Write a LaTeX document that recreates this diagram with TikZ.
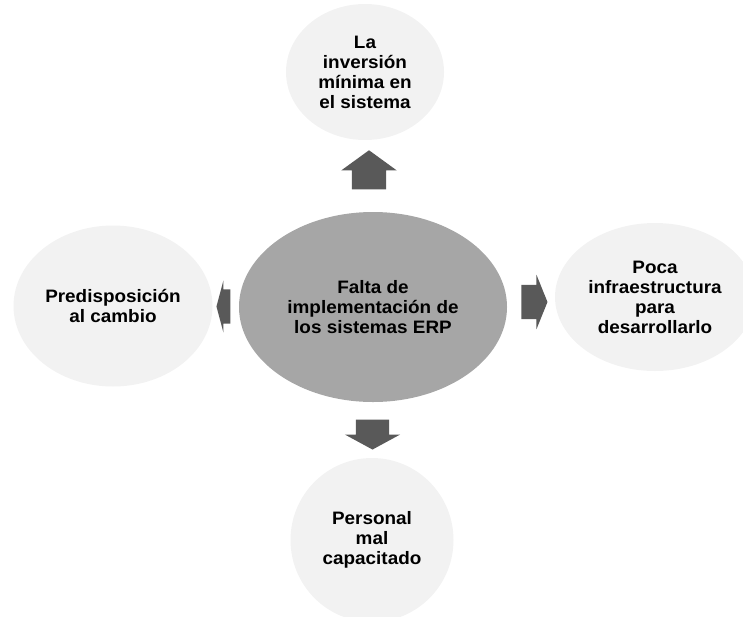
\documentclass[tikz,border=0pt]{standalone}
\usepackage{fontspec}
\setmainfont[FakeStretch=1.05]{Liberation Sans}
\usetikzlibrary{shapes.geometric, shapes.arrows, calc}

\definecolor{grisclaro}{HTML}{F2F2F2}
\definecolor{grismedio}{HTML}{A6A6A6}
\definecolor{grisoscuro}{HTML}{595959}

\begin{document}
\begin{tikzpicture}[x=1pt, y=-1pt, font=\bfseries\fontsize{18}{20}\selectfont,
  causa/.style={ellipse, fill=grisclaro, align=center, inner sep=0pt},
  flecha/.style={single arrow, fill=grisoscuro, inner xsep=0pt, inner ysep=17pt, minimum height=#1}]

\clip (0,0) rectangle (743,616);

% problema central
\node[causa, fill=grismedio, minimum width=268pt, minimum height=190pt] (falta) at (373,307) {Falta de\\implementación de\\los sistemas ERP};

% causas
\node[causa, minimum width=158pt, minimum height=136pt] (inversion) at (365,72) {La\\inversión\\mínima en\\el sistema};
\node[causa, minimum width=200pt, minimum height=148pt] (infra) at (655,297) {Poca\\infraestructura\\para\\desarrollarlo};
\node[causa, minimum width=199pt, minimum height=161pt] (predis) at (113,306) {Predisposición\\al cambio};
\node[causa, minimum width=163pt, minimum height=164pt] (personal) at (372,540) {Personal\\mal\\capacitado};

% flechas
\node[flecha=39pt, single arrow head extend=10.5pt, single arrow tip angle=108, rotate=90] (f1) at ($(falta.north)!0.5!(inversion.south)$) {};
\node[flecha=26pt, single arrow head extend=10pt, single arrow tip angle=136] (f2) at ($(falta.east)!0.5!(infra.west)$) {};
\node[flecha=14pt, single arrow head extend=9pt, single arrow tip angle=150, rotate=180] (f3) at ($(falta.west)!0.5!(predis.east)$) {};
\node[flecha=30pt, inner ysep=16.5pt, single arrow head extend=11pt, single arrow tip angle=123, rotate=-90] (f4) at ($(falta.south)!0.5!(personal.north)$) {};

\end{tikzpicture}
\end{document}
